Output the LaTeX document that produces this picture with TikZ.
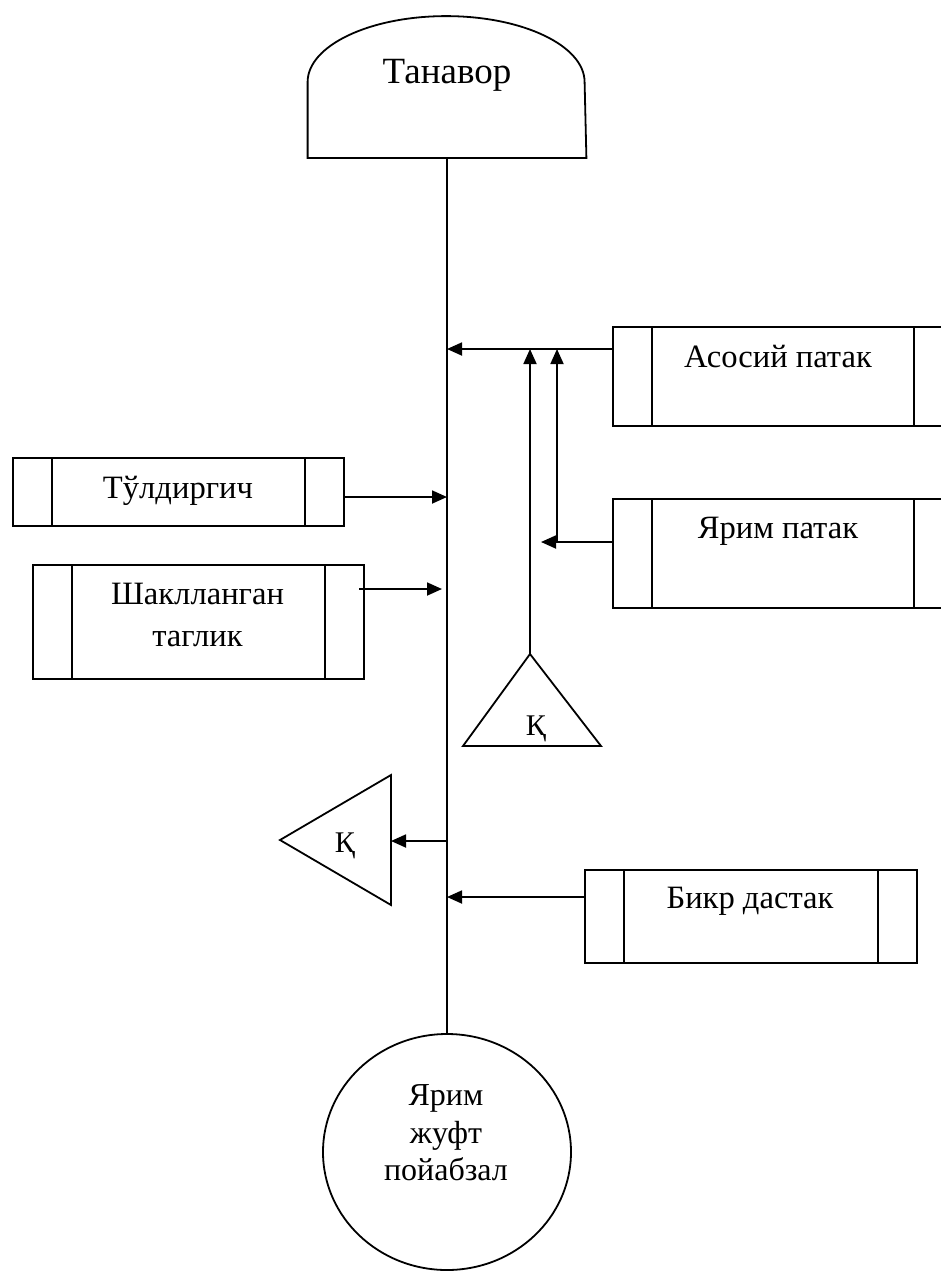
\documentclass[tikz,border=0pt]{standalone}
\usepackage{fontspec}
\setmainfont{Liberation Serif}
\usetikzlibrary{shapes.geometric, arrows.meta, positioning}

\begin{document}
\begin{tikzpicture}[
    x=0.5pt, y=-0.5pt,
    line width=0.9pt,
    procbox/.style={rectangle, draw, inner sep=0pt, anchor=north west,
      append after command={
        ([xshift=20pt]\tikzlastnode.north west) edge[draw, -] ([xshift=20pt]\tikzlastnode.south west)
        ([xshift=-20pt]\tikzlastnode.north east) edge[draw, -] ([xshift=-20pt]\tikzlastnode.south east)}},
    boxtext/.style={font=\fontsize{16.3}{21}\selectfont, align=center, inner sep=0pt},
    titletext/.style={font=\fontsize{18.5}{22}\selectfont, inner sep=0pt},
    circtext/.style={font=\fontsize{16}{18.75}\selectfont, align=center, inner sep=0pt},
    triletter/.style={font=\fontsize{15}{18}\selectfont, inner sep=0pt},
    flow/.style={-{Triangle[length=7.5pt, width=6.5pt]}}
]
\useasboundingbox (0,0) rectangle (941,1271);

% top and bottom
\node[minimum width=138.5pt, minimum height=37pt, inner sep=0pt] (tanavor) at (447,120) {};
\draw (tanavor.south west) -- (tanavor.north west)
  arc[start angle=180, end angle=0, x radius=69.25pt, y radius=33pt] -- (tanavor.south east) -- cycle;
\node[titletext, anchor=base] (tanavorT) at (447,83) {Танавор};

\node[ellipse, draw, minimum width=124pt, minimum height=118pt, inner sep=0pt] (pair) at (447,1152) {};
\node[circtext] (pairT) at (446,1133) {Ярим\\жуфт\\пойабзал};

\draw (tanavor.south) -- (pair.north);

% boxes
\node[procbox, minimum width=170pt, minimum height=49.5pt] (asosiy) at (612,326) {};
\node[boxtext, anchor=base] (asosiyT) at (778,367) {Асосий патак};
\node[procbox, minimum width=170pt, minimum height=54.5pt] (yarim) at (612,498) {};
\node[boxtext, anchor=base] (yarimT) at (778,538) {Ярим патак};
\node[procbox, minimum width=165.5pt, minimum height=34pt] (tuldir) at (12,457) {};
\node[boxtext, anchor=base] (tuldirT) at (178,498) {Тўлдиргич};
\node[procbox, minimum width=165.5pt, minimum height=57pt] (shakl) at (32,564) {};
\node[boxtext] (shaklT) at (197.5,615) {Шаклланган\\таглик};
\node[procbox, minimum width=166pt, minimum height=46.5pt] (bikr) at (584,869) {};
\node[boxtext, anchor=base] (bikrT) at (750,908) {Бикр дастак};

% triangles
\coordinate (tri1) at (530,654);
\draw (tri1) -- ++(-67,92) -- ++(138,0) -- cycle;
\node[triletter, anchor=base] (tri1T) at (536,735) {Қ};
\coordinate (tri2) at (391,841);
\draw (391,775) -- (391,905) -- (280,840) -- cycle;
\node[triletter, anchor=base] (tri2T) at (345,852) {Қ};

% connectors
\coordinate (asosiyJ) at (447,349);
\draw[flow] (asosiy.west |- asosiyJ) -- (asosiyJ);
\draw[flow] (tri1) -- (tri1 |- asosiyJ);
\coordinate (yarimJ) at (557,542);
\coordinate (yarimTip) at (541,542);
\draw[flow] (yarim.west |- yarimJ) -- (yarimTip);
\draw[flow] (yarimJ) -- (yarimJ |- asosiyJ);
\coordinate (tuldirJ) at (447,497);
\draw[flow] (tuldir.east |- tuldirJ) -- (tuldirJ);
\coordinate (shaklOut) at (359,589);
\coordinate (shaklJ) at (442,589);
\draw[flow] (shaklOut) -- (shaklJ);
\coordinate (tri2J) at (447,841);
\draw[flow] (tri2J) -- (tri2);
\coordinate (bikrJ) at (447,897);
\draw[flow] (bikr.west |- bikrJ) -- (bikrJ);

\end{tikzpicture}
\end{document}
